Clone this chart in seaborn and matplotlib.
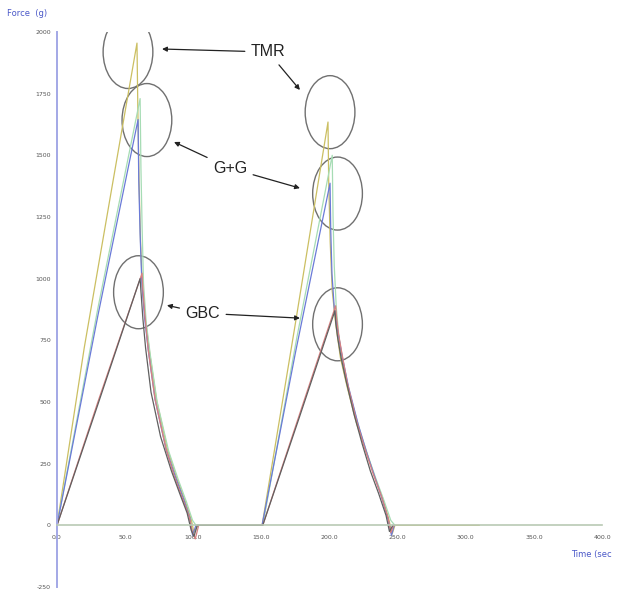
import pandas as pd
import seaborn as sns
import matplotlib.pyplot as plt
from matplotlib.patches import Ellipse

# force curves (time in s, force in g), two loading cycles each
tmr_t = [0, 20, 40, 58.7, 59.3, 60.2, 61.3, 62.8, 65, 68, 73, 81, 88, 94, 98.5, 100.5, 103,
         150.5, 175, 198.9, 199.4, 200.5, 202, 204.5, 208, 213, 220, 227, 233, 239, 243.5, 246, 248, 310]
tmr_f = [0, 720, 1360, 1955, 1700, 1400, 1150, 950, 830, 700, 510, 310, 190, 100, 25, -30, 0,
         0, 820, 1635, 1400, 1150, 950, 820, 680, 560, 410, 300, 200, 110, 25, -35, 0, 0]

lgreen_t = [0, 30, 61, 61.6, 62.5, 63.5, 65.5, 68.5, 73.5, 82, 89, 95, 99.5, 102,
            151, 176, 202, 202.6, 203.5, 205, 207, 210, 215, 222, 228, 234, 240, 245, 248]
lgreen_f = [0, 880, 1730, 1450, 1200, 980, 820, 690, 500, 300, 185, 95, 20, 0,
            0, 760, 1500, 1250, 1050, 880, 760, 650, 530, 390, 285, 190, 100, 20, 0]

gg_t = [0, 30, 59.5, 60, 61, 62.3, 64.3, 67, 72, 80, 87, 93, 97.5, 99.5, 102,
        150.5, 175, 200.4, 200.9, 201.8, 203.5, 206, 209.5, 214, 221, 227, 233, 238.5, 243, 245.5, 247.5]
gg_f = [0, 850, 1645, 1400, 1180, 980, 840, 710, 510, 310, 195, 105, 30, -40, 0,
        0, 700, 1387, 1200, 1020, 880, 790, 680, 560, 410, 300, 200, 110, 25, -40, 0]

gbc_t = [0, 30, 62.4, 63, 64.5, 67, 72, 80, 86, 92, 97, 99.5, 101.5, 104,
         151, 178, 204.5, 205.2, 206.5, 209, 213, 220, 226, 232, 238, 243, 245, 247]
gbc_f = [0, 500, 1022, 960, 850, 710, 510, 310, 200, 110, 35, -30, -55, 0,
         0, 450, 890, 840, 780, 700, 580, 420, 310, 210, 120, 30, -30, 0]

dark_t = [0, 30, 61, 61.6, 63, 65, 69, 76, 84, 90, 95.5, 98.5, 100.5, 103,
          151, 178, 204, 204.6, 206, 208.5, 212, 218, 224, 230, 236, 241.5, 244, 246.5]
dark_f = [0, 490, 1000, 950, 840, 720, 540, 360, 220, 130, 50, -20, -45, 0,
          0, 440, 870, 820, 760, 680, 590, 450, 330, 220, 130, 40, -25, 0]

series = [("TMR", tmr_t, tmr_f, "#cbbf62"),
          ("TMR b", lgreen_t, lgreen_f, "#a6dcb4"),
          ("G+G", gg_t, gg_f, "#6a7ad8"),
          ("GBC", gbc_t, gbc_f, "#d88080"),
          ("GBC b", dark_t, dark_f, "#606060")]

# annotation circles (center time, center force) and labels
circle_t = [52.1, 66.0, 59.8, 200.4, 205.9, 205.9]
circle_f = [1919, 1643, 945, 1675, 1345, 815]
labels = ["TMR", "G+G", "GBC"]
label_t = [155.0, 127.0, 107.0]
label_f = [1919, 1448, 860]
tip_left_t = [77.1, 85.9, 80.7]
tip_left_f = [1931, 1554, 892]
tip_right_t = [178.3, 178.3, 178.3]
tip_right_f = [1765, 1367, 840]

yticks = [-250, 0, 250, 500, 750, 1000, 1250, 1500, 1750, 2000]
xticks = [0, 50, 100, 150, 200, 250, 300, 350, 400]
xticklabels = ["0.0", "50.0", "100.0", "150.0", "200.0", "250.0", "300.0", "350.0", "400.0"]

sns.set_style("white")
plt.rcParams["axes.unicode_minus"] = False
fig = plt.figure(figsize=(6.17, 5.94), dpi=100)
ax = fig.add_axes([57 / 617, 7 / 594, 545 / 617, 555 / 594])

for name, t, f, c in series:
    df = pd.DataFrame({"t": t, "f": f})
    sns.lineplot(data=df, x="t", y="f", sort=False, estimator=None,
                 color=c, lw=0.9, ax=ax)

for ct, cf in zip(circle_t, circle_f):
    ax.add_patch(Ellipse((ct, cf), 36.5, 296, fill=False,
                         edgecolor="#707070", lw=1.0))

arrow = dict(arrowstyle="-|>", color="#222222", lw=0.9, mutation_scale=7,
             shrinkA=2, shrinkB=0)
for lab, lt, lf, a, b, c, d in zip(labels, label_t, label_f,
                                   tip_left_t, tip_left_f,
                                   tip_right_t, tip_right_f):
    ax.annotate(lab, xy=(a, b), xytext=(lt, lf), ha="center", va="center",
                fontsize=11.5, family="Liberation Sans", color="#222222",
                arrowprops=arrow)
    ax.annotate(lab, xy=(c, d), xytext=(lt, lf), ha="center", va="center",
                fontsize=11.5, family="Liberation Sans", color="none",
                arrowprops=arrow)

ax.set_xlim(0, 400)
ax.set_ylim(-250, 2000)
ax.set_xticks(xticks)
ax.set_xticklabels(xticklabels)
ax.set_yticks(yticks)
ax.tick_params(axis="both", labelsize=4.5, labelcolor="#555555",
               length=2.5, width=0.6, colors="#999999")
ax.tick_params(axis="both", labelcolor="#555555")
ax.tick_params(axis="x", direction="inout", length=4, pad=5)
ax.tick_params(axis="y", direction="out", length=3, pad=1.5)
ax.set_xlabel("")
ax.set_ylabel("")

sns.despine(ax=ax, top=True, right=True)
ax.spines["bottom"].set_position(("data", 0))
ax.spines["bottom"].set_color("#b9c9b4")
ax.spines["bottom"].set_linewidth(1.2)
ax.spines["left"].set_color("#a3a8e6")
ax.spines["left"].set_linewidth(1.4)

fig.text(0.012, 0.978, "Force  (g)", fontsize=6, color="#4a58c8", va="center")
fig.text(0.925, 0.066, "Time (sec", fontsize=6, color="#4a58c8", va="center")

fig.savefig("out.png", dpi=100)
